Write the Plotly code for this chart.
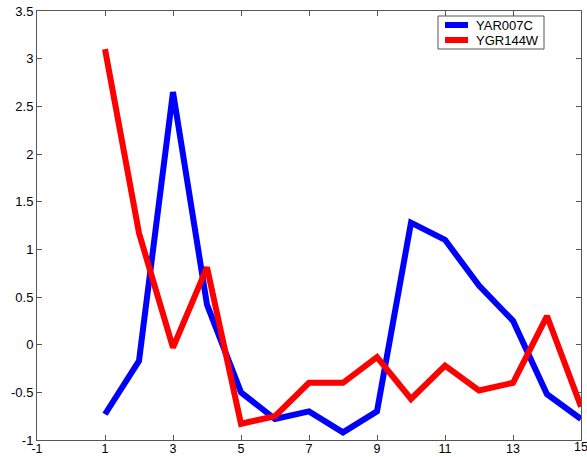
import plotly.graph_objects as go

x = list(range(1, 16))
yar007c = [-0.73, -0.17, 2.65, 0.42, -0.5, -0.78, -0.7, -0.92, -0.7, 1.28, 1.1, 0.62, 0.25, -0.52, -0.78]
ygr144w = [3.1, 1.17, -0.03, 0.81, -0.83, -0.75, -0.4, -0.4, -0.13, -0.57, -0.22, -0.48, -0.4, 0.3, -0.65]
series_names = ["YAR007C", "YGR144W"]
series_colors = ["#0000ff", "#ff0000"]
xticks = [-1, 1, 3, 5, 7, 9, 11, 13, 15]
yticks = [-1, -0.5, 0, 0.5, 1, 1.5, 2, 2.5, 3, 3.5]
ytick_text = ["-1", "-0.5", "0", "0.5", "1", "1.5", "2", "2.5", "3", "3.5"]

FONT = "Liberation Sans, Arial"
fig = go.Figure()
for name, vals, col in zip(series_names, [yar007c, ygr144w], series_colors):
    fig.add_trace(go.Scatter(x=x, y=vals, mode="lines", name=name,
                             line=dict(color=col, width=6), showlegend=False))

axis_common = dict(showline=True, linecolor="#555555", linewidth=1, mirror="ticks",
                   ticks="inside", ticklen=5, tickcolor="#555555", showgrid=False,
                   zeroline=False, automargin=False)
fig.update_xaxes(range=[-1, 15], tickvals=xticks, ticktext=[str(v) for v in xticks],
                 tickfont=dict(family=FONT, size=12.5, color="black"), ticklabelstandoff=-3,
                 **axis_common)
fig.update_yaxes(range=[-1, 3.5], tickvals=yticks, ticktext=ytick_text,
                 tickfont=dict(family=FONT, size=13, color="black"), **axis_common)

# The last x tick label sits at the page edge (plotly would hide it), so add it as text
fig.add_annotation(xref="x", yref="paper", x=xticks[-1], y=0, yanchor="top", xanchor="center",
                   text=str(xticks[-1]), showarrow=False, yshift=2,
                   font=dict(family=FONT, size=12.5, color="black"))

# Manual legend box (MATLAB style), in pixel -> paper conversion
L, R, T, B = 37, 581, 11, 440
def px(xp):
    return (xp - L) / (R - L)
def py(yp):
    return (B - yp) / (B - T)

fig.add_shape(type="rect", xref="paper", yref="paper",
              x0=px(438), x1=px(544), y0=py(49), y1=py(16),
              line=dict(color="#555555", width=1), fillcolor="white", layer="above")
for i, (name, col) in enumerate(zip(series_names, series_colors)):
    yy = 25 + i * 15
    fig.add_shape(type="line", xref="paper", yref="paper",
                  x0=px(445), x1=px(468), y0=py(yy), y1=py(yy),
                  line=dict(color=col, width=6), layer="above")
    fig.add_annotation(xref="paper", yref="paper", x=px(474), y=py(yy),
                       xanchor="left", yanchor="middle", text=name, showarrow=False,
                       font=dict(family=FONT, size=13, color="black"))

fig.update_layout(
    width=587, height=457,
    margin=dict(l=L, r=587 - R, t=T, b=457 - B),
    plot_bgcolor="white", paper_bgcolor="white",
    font=dict(family=FONT, size=13, color="black"),
    showlegend=False,
)
fig.write_html("out.html")
